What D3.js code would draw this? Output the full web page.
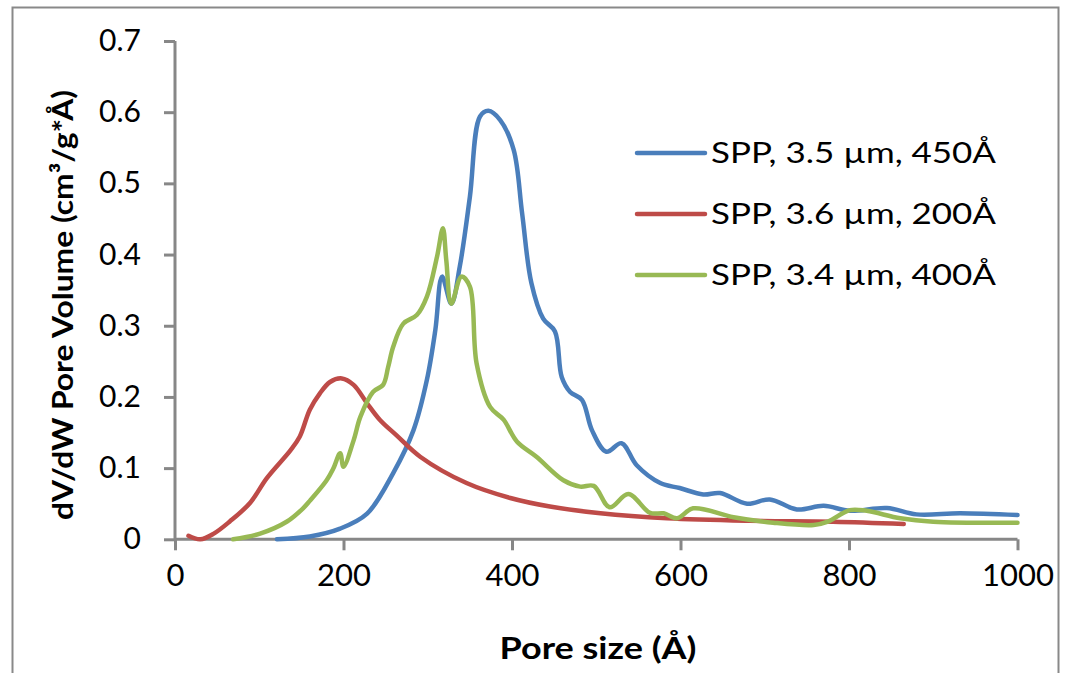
<!DOCTYPE html>
<html><head><meta charset="utf-8">
<script src="https://cdn.jsdelivr.net/npm/d3@7"></script>
<style>body{margin:0;background:#fff;} svg{display:block;} text{font-family:Lato,"Open Sans",sans-serif;}</style>
</head><body>
<svg id="c" width="1070" height="673"></svg>
<script>
const xTicks = [0,200,400,600,800,1000];
const yTicks = [0,0.1,0.2,0.3,0.4,0.5,0.6,0.7];
const seriesNames = ["SPP, 3.5 µm, 450Å","SPP, 3.6 µm, 200Å","SPP, 3.4 µm, 400Å"];
const blueX = [121,160,196,228,259,283,299,309,317,328,338,350,362,372,386,402,412,423,437,451,459,469,483,495,512,530,548,576,599,627,647,679,706,738,770,801,845,880,932,1000];
const blueY = [0,0.004,0.015,0.036,0.093,0.153,0.224,0.294,0.369,0.331,0.383,0.481,0.594,0.602,0.589,0.547,0.458,0.36,0.31,0.292,0.228,0.207,0.196,0.153,0.123,0.135,0.104,0.079,0.072,0.063,0.065,0.050,0.056,0.042,0.047,0.040,0.044,0.035,0.0365,0.034];
const redX = [16,30,46,65,89,109,137,148,160,172,184,198,212,228,243,263,291,346,398,445,505,584,682,781,865];
const redY = [0.005,0,0.008,0.025,0.051,0.086,0.125,0.144,0.182,0.205,0.221,0.226,0.217,0.191,0.168,0.146,0.116,0.079,0.058,0.046,0.0365,0.0295,0.026,0.0247,0.0215];
const greenX = [69,101,133,152,160,180,188,196,200,212,220,235,247,253,259,271,287,299,311,318,322,328,340,350,358,374,390,406,429,461,481,497,516,538,564,580,596,615,663,710,758,775,801,821,861,900,1000];
const greenY = [0,0.008,0.025,0.0435,0.054,0.083,0.0997,0.121,0.102,0.139,0.172,0.207,0.217,0.242,0.2705,0.303,0.315,0.341,0.397,0.437,0.392,0.331,0.369,0.355,0.247,0.186,0.168,0.137,0.116,0.083,0.074,0.075,0.045,0.0636,0.037,0.0365,0.0295,0.0435,0.031,0.0233,0.020,0.0247,0.041,0.040,0.0295,0.0247,0.0233];
const colors = ["#4a7ebb","#be4b48","#98b954"];

const svg = d3.select("#c");
svg.append("rect").attr("x",12.5).attr("y",7.5).attr("width",1046).attr("height",700)
  .attr("fill","#fff").attr("stroke","#898989").attr("stroke-width",2);

const x = d3.scaleLinear().domain([0,1000]).range([175,1017.5]);
const y = d3.scaleLinear().domain([0,0.7]).range([539.3,41]);

const gx = svg.append("g").attr("transform","translate(0,539.3)")
  .call(d3.axisBottom(x).tickValues(xTicks).tickSize(11).tickPadding(14).tickFormat(d3.format("d")));
const gy = svg.append("g").attr("transform","translate(175,0)")
  .call(d3.axisLeft(y).tickValues(yTicks).tickSize(11).tickPadding(23).tickFormat(d=> d===0?"0":d3.format(".1f")(d)));
[gx,gy].forEach(g=>{
  g.selectAll("path,line").attr("stroke","#878787").attr("stroke-width",3);
  g.selectAll("text").attr("fill","#000").style("font-family","Lato,'Open Sans',sans-serif");
});
gx.selectAll("text").attr("font-size",31);
gy.selectAll("text").attr("font-size",30);
gx.select(".domain").attr("d","M175,0H1017.5");
gy.select(".domain").attr("d","M0,539.3V41");

const line = d3.line().x(d=>x(d[0])).y(d=>y(d[1])).curve(d3.curveCatmullRom.alpha(0.5));
const data = [d3.zip(blueX,blueY), d3.zip(redX,redY), d3.zip(greenX,greenY)];
[0,1,2].forEach(i=>{
  svg.append("path").datum(data[i]).attr("d",line).attr("fill","none")
    .attr("stroke",colors[i]).attr("stroke-width",4.5).attr("stroke-linejoin","round").attr("stroke-linecap","round");
});

const lg = svg.append("g");
seriesNames.forEach((n,i)=>{
  const yy = 153 + i*61;
  lg.append("line").attr("x1",637).attr("x2",705).attr("y1",yy).attr("y2",yy)
    .attr("stroke",colors[i]).attr("stroke-width",4.5).attr("stroke-linecap","round");
  lg.append("text").attr("x",711).attr("y",yy+10).attr("font-size",29).attr("fill","#000")
    .attr("textLength",285).attr("lengthAdjust","spacingAndGlyphs").text(n);
});

svg.append("text").attr("x",598).attr("y",659).attr("text-anchor","middle")
  .attr("font-size",31).attr("font-weight","bold")
  .attr("textLength",197).attr("lengthAdjust","spacingAndGlyphs").text("Pore size (Å)");
svg.append("text").attr("transform","translate(73,305) rotate(-90)").attr("text-anchor","middle")
  .attr("font-size",29).attr("font-weight","bold")
  .attr("textLength",430).attr("lengthAdjust","spacingAndGlyphs").text("dV/dW Pore Volume (cm³/g*Å)");
</script>
</body></html>
